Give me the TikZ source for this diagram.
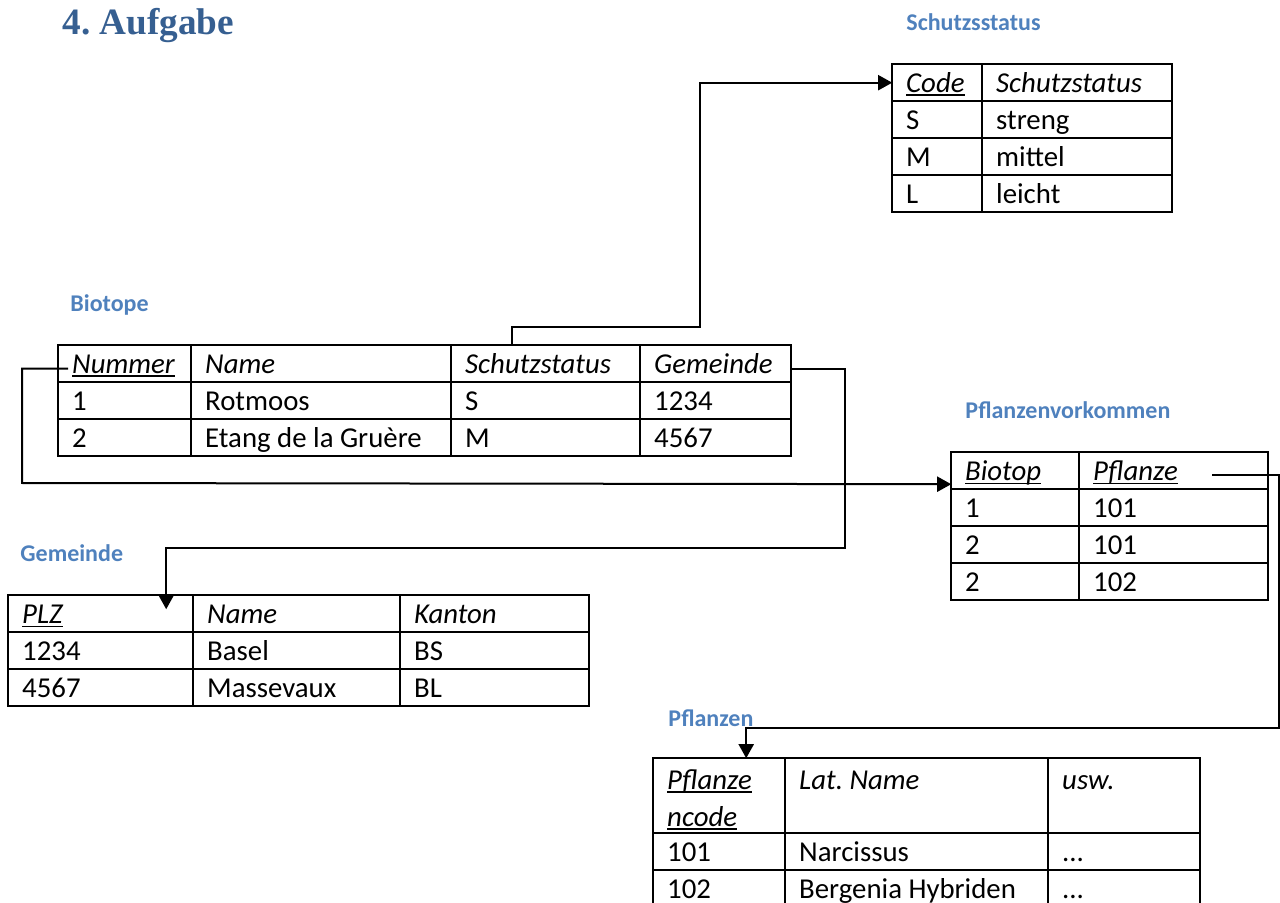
\documentclass[tikz,border=0pt]{standalone}
\usepackage{fontspec}
\setmainfont{Carlito}
\newfontfamily\titlefont{Liberation Serif}
\usetikzlibrary{matrix, positioning, calc, arrows.meta}
\definecolor{titleblue}{RGB}{54,95,145}
\definecolor{labelblue}{RGB}{79,129,189}
\newcommand{\bodyfont}{\fontsize{14.4}{18.5}\selectfont}
\newcommand{\ulin}[1]{\sbox0{#1}\rlap{\rule[-1.7pt]{\wd0}{0.8pt}}\usebox0}
\frenchspacing
\tikzset{
   cell/.style = {%
    draw,
    line width=1.2pt,
    inner xsep=7pt, inner ysep=0pt,
    minimum height=18.5pt,
    text height=12pt, text depth=2pt,
    anchor=center,
    align=flush left,
    font=\bodyfont},
   tbl/.style = {%
    matrix of nodes,
    inner sep=0pt, outer sep=0pt,
    row sep=-1.2pt, column sep=-1.2pt,
    anchor=north west,
    nodes={cell},
    row 1/.style={nodes={font=\bodyfont\itshape}}},
   tabname/.style = {%
    anchor=base west,
    inner sep=0pt,
    text=labelblue,
    font=\fontsize{12}{14}\selectfont\bfseries},
   heading/.style = {%
    anchor=base west,
    inner sep=0pt,
    text=titleblue,
    font=\fontsize{18.6}{22}\selectfont\titlefont\bfseries},
   fk/.style = {%
    draw,
    line width=1pt,
    -{Triangle[length=7pt, width=7.5pt]}},
}

\begin{document}
\begin{tikzpicture}[x=0.5pt, y=-0.5pt, ampersand replacement=\&]
    \useasboundingbox (0,0) rectangle (1280,903);
    \clip (0,0) rectangle (1280,903);

    % captions
    \node[heading] (title) at (62,35) {4. Aufgabe};
    \node[tabname] (ss-name) at (906,31) {Schutzsstatus};
    \node[tabname] (bio-name) at (70,312) {Biotope};
    \node[tabname] (pv-name) at (965,419) {Pflanzenvorkommen};
    \node[tabname] (gem-name) at (20,561) {Gemeinde};
    \node[tabname] (pfl-name) at (668,726) {Pflanzen};

    % tables
    \matrix[tbl,
        column 1/.style={nodes={text width=31pt}},
        column 2/.style={nodes={text width=81pt}}
        ] (ss) at (891,63)
        {
            \ulin{Code} \& Schutzstatus \\
                      S \& streng       \\
                      M \& mittel       \\
                      L \& leicht       \\
        };
    \matrix[tbl,
        column 1/.style={nodes={text width=52.5pt}},
        column 2/.style={nodes={text width=116pt}},
        column 3/.style={nodes={text width=80.5pt}},
        column 4/.style={nodes={text width=61.5pt}}
        ] (bio) at (57,344)
        {
            \ulin{Nummer} \& Name               \& Schutzstatus \& Gemeinde \\
                        1 \& Rotmoos            \& S            \& 1234     \\
                        2 \& Etang de la Gruère \& M            \& 4567     \\
        };
    \matrix[tbl,
        column 1/.style={nodes={text width=78.5pt}},
        column 2/.style={nodes={text width=89.5pt}},
        column 3/.style={nodes={text width=80.5pt}}
        ] (gem) at (7,594)
        {
            \ulin{PLZ} \& Name      \& Kanton \\
                  1234 \& Basel     \& BS     \\
                  4567 \& Massevaux \& BL     \\
        };
    \matrix[tbl,
        column 1/.style={nodes={text width=50pt}},
        column 2/.style={nodes={text width=80.5pt}}
        ] (pv) at (950,451)
        {
            \ulin{Biotop} \& \ulin{Pflanze} \\
                        1 \& 101            \\
                        2 \& 101            \\
                        2 \& 102            \\
        };
    \matrix[tbl,
        row 1/.style={nodes={font=\bodyfont\itshape, text depth=18.5pt, minimum height=37.5pt}},
        column 1/.style={nodes={text width=52pt}},
        column 2/.style={nodes={text width=117.5pt}},
        column 3/.style={nodes={text width=62pt}}
        ] (pfl) at (652,757)
        {
            \ulin{Pflanze}\newline\ulin{ncode} \& Lat. Name         \& usw. \\
                                           101 \& Narcissus         \& ...  \\
                                           102 \& Bergenia Hybriden \& ...  \\
        };

    % foreign keys
    \draw[fk] ($(bio-1-3.north west)+(61,0)$) |- (700,327) |- (ss-1-1.west);
    \draw[fk] ($(bio-1-1.west)+(10,5)$) -| (22,483) -- ($(pv-1-1.south west)+(0,-5)$);
    \draw[fk] ($(bio-1-4.east)+(0,5)$) -| (845,548) -| ($(gem-1-1.north west)+(158,14)$);
    \draw[fk] ($(pv-1-2.east)+(-56,4)$) -| (1279,728) -| ($(pfl-1-1.north west)+(93,0)$);
\end{tikzpicture}
\end{document}
